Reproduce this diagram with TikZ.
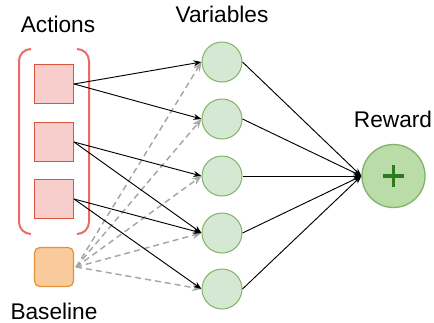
\documentclass[tikz,border=0pt]{standalone}
\usepackage{fontspec}
\setmainfont{Liberation Sans}
\usetikzlibrary{arrows.meta}
\definecolor{actfill}{HTML}{F8CECC}
\definecolor{actline}{HTML}{D9553F}
\definecolor{brk}{HTML}{EA6B66}
\definecolor{basefill}{HTML}{F9CB9C}
\definecolor{baseline}{HTML}{E69138}
\definecolor{varfill}{HTML}{D5E8D4}
\definecolor{varline}{HTML}{82B366}
\definecolor{rewfill}{HTML}{B9DCA8}
\definecolor{plusc}{HTML}{2D7A1E}
\definecolor{dashc}{HTML}{A6A6A6}
\tikzset{
  actbox/.style={draw=actline, fill=actfill, line width=0.75pt, minimum size=29.25pt, inner sep=0pt},
  basebox/.style={draw=baseline, fill=basefill, line width=0.9pt, rounded corners=4pt, minimum size=29.25pt, inner sep=0pt},
  varnode/.style={circle, draw=varline, fill=varfill, line width=0.75pt, minimum size=30pt, inner sep=0pt},
  rewnode/.style={circle, draw=varline, fill=rewfill, line width=1pt, minimum size=47.25pt, inner sep=0pt},
  label/.style={anchor=base, font=\fontsize{17}{20}\selectfont, inner sep=0pt},
  link/.style={-{Stealth[length=6pt,width=4.5pt]}, line width=0.7pt, black},
  baselink/.style={-{Stealth[length=7pt,width=5.5pt]}, line width=1.1pt, dashc, dash pattern=on 4.5pt off 3pt},
}
\begin{document}
\begin{tikzpicture}[x=0.75pt, y=-0.75pt]
\useasboundingbox (0,0) rectangle (434,322);

% labels
\node[label] (tact) at (58,32) {Actions};
\node[label] (tvar) at (222,22) {Variables};
\node[label] (trew) at (393,127) {Reward};
\node[label] (tbase) at (54,319) {Baseline};

% bracket around the actions
\draw[brk, line width=1.5pt, rounded corners=9pt] (31,49) -- (19,49) -- (19,234) -- (31,234);
\draw[brk, line width=1.5pt, rounded corners=9pt] (77,49) -- (89,49) -- (89,234) -- (77,234);

% action boxes and baseline
\node[actbox] (a1) at (54,84) {};
\node[actbox] (a2) at (54,142) {};
\node[actbox] (a3) at (54,199) {};
\node[basebox] (b) at (54,267) {};

% variables
\node[varnode] (v1) at (222,62) {};
\node[varnode] (v2) at (222,119) {};
\node[varnode] (v3) at (222,176) {};
\node[varnode] (v4) at (222,233) {};
\node[varnode] (v5) at (222,289) {};

% reward
\node[rewnode] (r) at (393.5,176) {};
\draw[plusc, line width=2.4pt] ([xshift=-7.9pt]r.center) -- ([xshift=7.9pt]r.center)
  ([yshift=-7.9pt]r.center) -- ([yshift=7.9pt]r.center);

% baseline links
\foreach \v in {v1,v2,v3,v4,v5}
  \draw[baselink] ([xshift=1.5pt]b.east) -- (\v.west);

% action links
\draw[link] (a1.east) -- (v1.west);
\draw[link] (a1.east) -- (v2.west);
\draw[link] (a2.east) -- (v3.west);
\draw[link] (a2.east) -- (v4.west);
\draw[link] (a3.east) -- (v4.west);
\draw[link] (a3.east) -- (v5.west);

% variable to reward links
\foreach \v in {v1,v2,v3,v4,v5}
  \draw[link] (\v.east) -- (r.west);
\end{tikzpicture}
\end{document}
